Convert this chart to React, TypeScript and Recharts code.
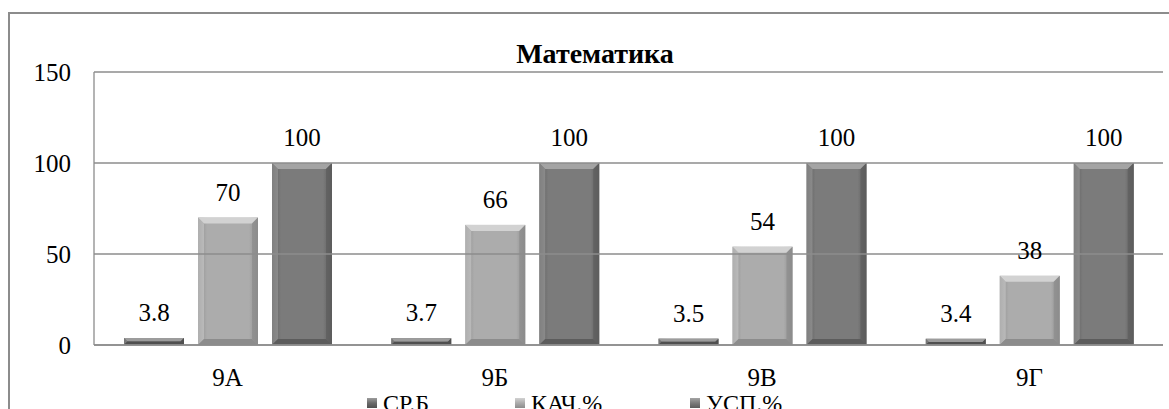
import React from "react";
import { BarChart, Bar, XAxis, YAxis, ReferenceLine, Legend, LabelList } from "recharts";

const classes = ["9А", "9Б", "9В", "9Г"];
const srB = [3.8, 3.7, 3.5, 3.4];
const kach = [70, 66, 54, 38];
const usp = [100, 100, 100, 100];
const yTicks = [0, 50, 100, 150];

const series = [
  { key: "srb", name: "СР.Б", base: "#6b6b6b", light: "#9c9c9c", dark: "#4f4f4f" },
  { key: "kach", name: "КАЧ.%", base: "#acacac", light: "#d2d2d2", dark: "#8c8c8c" },
  { key: "usp", name: "УСП.%", base: "#7b7b7b", light: "#a4a4a4", dark: "#5c5c5c" },
];

const data = classes.map((c, i) => ({ name: c, srb: srB[i], kach: kach[i], usp: usp[i] }));

const serif = "'Times New Roman', 'Liberation Serif', Tinos, serif";
const gridColor = "#8c8c8c";

const css = `#root, #root * { font-family: 'Times New Roman', 'Liberation Serif', Tinos, serif !important; }`;

function BevelBar(props: any) {
  const { x, y, width, height, idx } = props;
  if (!height || height <= 0) return null;
  const s = series[idx];
  const b = Math.min(6, height / 2, width / 2);
  return (
    <g>
      <rect x={x} y={y} width={width} height={height} fill={`url(#g-${s.key})`} />
      <polygon points={`${x},${y} ${x + width},${y} ${x + width - b},${y + b} ${x + b},${y + b}`} fill={s.light} />
      <polygon points={`${x},${y} ${x + b},${y + b} ${x + b},${y + height - b} ${x},${y + height}`} fill={s.light} opacity={0.5} />
      <polygon points={`${x + width},${y} ${x + width - b},${y + b} ${x + width - b},${y + height - b} ${x + width},${y + height}`} fill={s.dark} opacity={0.7} />
      <polygon points={`${x},${y + height} ${x + b},${y + height - b} ${x + width - b},${y + height - b} ${x + width},${y + height}`} fill={s.dark} />
    </g>
  );
}

function LegendContent() {
  const widths = [148, 175, 120];
  return (
    <div style={{ display: "flex", paddingLeft: 357, paddingTop: 18, fontFamily: serif, fontSize: 24, lineHeight: "24px", color: "#000" }}>
      {series.map((s, i) => (
        <div key={s.key} style={{ width: widths[i], display: "flex", alignItems: "center" }}>
          <span style={{ display: "inline-block", width: 10, height: 10, marginRight: 6, background: `linear-gradient(${s.light}, ${s.base}, ${s.dark})` }} />
          <span>{s.name}</span>
        </div>
      ))}
    </div>
  );
}

export default function App() {
  return (
    <div style={{ position: "fixed", left: 0, top: 0, width: 1169, height: 409, overflow: "hidden", background: "#fff", fontFamily: serif }}>
      <style>{css}</style>
      <div style={{ position: "absolute", left: 8, top: 12, width: 1180, height: 420, border: "2px solid #8c8c8c" }}>
        <BarChart
          width={1170}
          height={395}
          data={data}
          margin={{ top: 58, right: 17, bottom: 0, left: 0 }}
          barCategoryGap={30}
          barGap={14}
        >
          <defs>
            {series.map((s) => (
              <linearGradient key={s.key} id={`g-${s.key}`} x1="0" y1="0" x2="1" y2="0">
                <stop offset="0%" stopColor={s.dark} />
                <stop offset="15%" stopColor={s.base} />
                <stop offset="85%" stopColor={s.base} />
                <stop offset="100%" stopColor={s.dark} />
              </linearGradient>
            ))}
          </defs>
          <text x={585} y={49} textAnchor="middle" fontFamily={serif} fontSize={28} fontWeight="bold" fill="#000">
            Математика
          </text>
          <XAxis
            dataKey="name"
            height={28}
            tickLine={false}
            tickSize={0}
            tickMargin={23}
            axisLine={{ stroke: gridColor, strokeWidth: 1.3 }}
            tick={{ fill: "#000", fontSize: 25, fontFamily: serif }}
          />
          <YAxis
            width={84}
            domain={[0, 150]}
            ticks={yTicks}
            tickLine={false}
            tickSize={0}
            tickMargin={23}
            axisLine={{ stroke: gridColor, strokeWidth: 1.3 }}
            tick={{ fill: "#000", fontSize: 25, fontFamily: serif }}
          />
          {yTicks.map((t) => (
            <ReferenceLine key={t} y={t} stroke={gridColor} strokeWidth={1.3} />
          ))}
          <Legend verticalAlign="bottom" height={36} content={<LegendContent />} />
          {series.map((s, i) => (
            <Bar
              key={s.key}
              dataKey={s.key}
              name={s.name}
              fill={s.base}
              isAnimationActive={false}
              shape={<BevelBar idx={i} />}
            >
              <LabelList dataKey={s.key} position="top" offset={17} fill="#000" fontSize={25} fontFamily={serif} />
            </Bar>
          ))}
        </BarChart>
      </div>
    </div>
  );
}
